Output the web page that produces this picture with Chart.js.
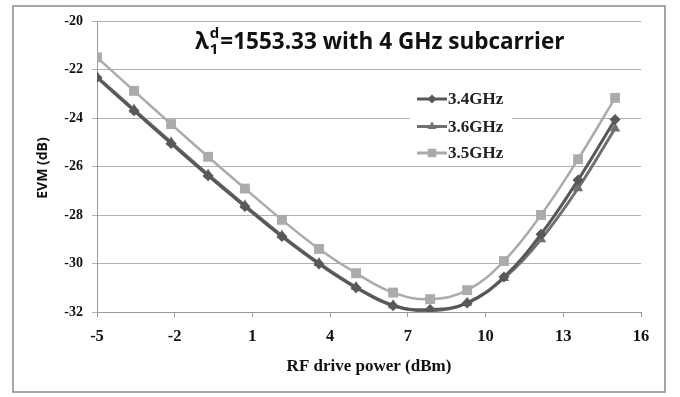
<!DOCTYPE html>
<html>
<head>
<meta charset="utf-8">
<script src="https://cdn.jsdelivr.net/npm/chart.js@4.4.1/dist/chart.umd.min.js"></script>
<style>
html,body{margin:0;padding:0;background:#fff;}
#wrap{width:680px;height:397px;position:relative;}
</style>
</head>
<body>
<div id="wrap"><canvas id="c" width="680" height="397"></canvas></div>
<script>
// ---- data ----
const xValues = [-5, -3.57, -2.14, -0.71, 0.71, 2.14, 3.57, 5, 6.43, 7.86, 9.29, 10.71, 12.14, 13.57, 15];
const evm34 = [-22.33, -23.7, -25.05, -26.38, -27.65, -28.89, -30.02, -31.0, -31.74, -31.9, -31.63, -30.56, -28.79, -26.56, -24.06];
const evm36 = [-22.3, -23.65, -25.0, -26.33, -27.6, -28.85, -29.98, -30.97, -31.72, -31.95, -31.62, -30.6, -29.0, -26.9, -24.43];
const evm35 = [-21.5, -22.88, -24.25, -25.6, -26.91, -28.2, -29.4, -30.4, -31.2, -31.47, -31.1, -29.9, -28.0, -25.7, -23.17];
const seriesNames = ['3.4GHz', '3.6GHz', '3.5GHz'];
const xTitle = 'RF drive power (dBm)';
const yTitle = 'EVM (dB)';
const titleMain = 'λ';
const titleSup = 'd';
const titleSub = '1';
const titleRest = '=1553.33 with 4 GHz subcarrier';

const colors = ['#585858', '#707070', '#ababab'];
const shapes = ['rectRot', 'triangle', 'rect'];
const radii = [5.5, 6, 7];

function pts(arr){ return xValues.map((x,i)=>({x:x, y:arr[i]})); }

const datasets = [evm34, evm36, evm35].map((arr, i) => ({
  label: seriesNames[i],
  data: pts(arr),
  borderColor: colors[i],
  backgroundColor: colors[i],
  borderWidth: i === 2 ? 2.5 : 3,
  pointStyle: shapes[i],
  pointRadius: radii[i],
  pointBorderWidth: 0,
  pointBackgroundColor: colors[i],
  tension: 0.4,
  fill: false
}));

const deco = {
  id: 'deco',
  beforeDraw(chart){
    const ctx = chart.ctx;
    ctx.save();
    ctx.fillStyle = '#fff';
    ctx.fillRect(0,0,chart.width,chart.height);
    ctx.strokeStyle = '#8a8a8a';
    ctx.lineWidth = 1.5;
    ctx.strokeRect(13, 6, 652, 386);
    ctx.restore();
  },
  afterDraw(chart){
    const ctx = chart.ctx;
    ctx.save();
    // Title
    ctx.fillStyle = '#111';
    ctx.textBaseline = 'alphabetic';
    ctx.textAlign = 'left';
    const big = 'bold 22.5px "Open Sans"';
    const small = 'bold 15px "Open Sans"';
    let x = 195, base = 49;
    ctx.font = big; ctx.fillText(titleMain, x, base); x += ctx.measureText(titleMain).width + 1;
    ctx.font = small; ctx.fillText(titleSup, x, base - 11);
    ctx.fillText(titleSub, x, base + 5); x += Math.max(ctx.measureText(titleSup).width, ctx.measureText(titleSub).width) + 1;
    ctx.font = big; ctx.fillText(titleRest, x, base);

    // Legend
    ctx.fillStyle = '#fff';
    ctx.fillRect(410, 84, 102, 82);
    const rows = [99, 126.5, 153];
    ctx.font = 'bold 17px "Liberation Serif"';
    ctx.textBaseline = 'middle';
    rows.forEach((y, i) => {
      ctx.strokeStyle = colors[i];
      ctx.lineWidth = 3;
      ctx.beginPath(); ctx.moveTo(417, y); ctx.lineTo(447, y); ctx.stroke();
      ctx.fillStyle = colors[i];
      Chart.helpers.drawPoint(ctx, {pointStyle: shapes[i], radius: radii[i]-1, borderWidth: 0}, 432, y);
      ctx.fillStyle = '#222';
      ctx.fillText(seriesNames[i], 448, y + 1);
    });

    // Axis titles
    ctx.fillStyle = '#111';
    ctx.textAlign = 'center';
    ctx.textBaseline = 'middle';
    ctx.font = 'bold 17px "Liberation Serif"';
    ctx.fillText(xTitle, 369, 367);
    ctx.save();
    ctx.translate(43, 168);
    ctx.rotate(-Math.PI/2);
    ctx.font = 'bold 14px "Open Sans"';
    ctx.fillText(yTitle, 0, 0);
    ctx.restore();
    ctx.restore();
  }
};

new Chart(document.getElementById('c'), {
  type: 'line',
  data: { datasets: datasets },
  options: {
    responsive: false,
    animation: false,
    layout: { padding: { left: 0, right: 39, top: 21, bottom: 0 } },
    plugins: { legend: { display: false }, title: { display: false }, tooltip: { enabled: false } },
    scales: {
      x: {
        type: 'linear', min: -5, max: 16,
        ticks: { stepSize: 3, color: '#111', font: { family: 'Liberation Serif', size: 16.5, weight: 'bold' }, padding: 10, maxRotation: 0 },
        grid: { display: true, drawOnChartArea: false, drawTicks: true, tickLength: 5, color: '#9a9a9a' },
        border: { display: true, color: '#9a9a9a' },
        afterFit(s){ s.height = 85; }
      },
      y: {
        min: -32, max: -20,
        ticks: { stepSize: 2, color: '#111', font: { family: 'Liberation Serif', size: 14, weight: 'bold' }, padding: 9 },
        grid: { display: true, drawOnChartArea: true, drawTicks: true, tickLength: 5, color: '#b0b0b0' },
        border: { display: true, color: '#9a9a9a' },
        afterFit(s){ s.width = 97; }
      }
    }
  },
  plugins: [deco]
});
</script>
</body>
</html>
